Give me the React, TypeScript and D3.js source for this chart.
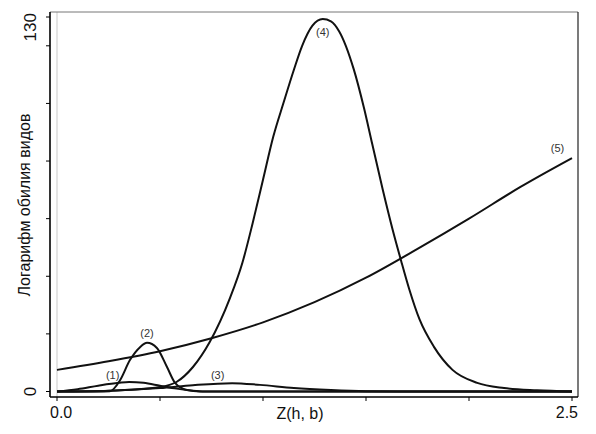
import React from 'react';
import * as d3 from 'd3';

// curve (1)
const c1X = [0, 0.1, 0.2, 0.3, 0.35, 0.42, 0.5, 0.58, 0.66, 0.75, 1.0, 2.5];
const c1Y = [0, 0.8, 2.0, 3.0, 3.3, 3.0, 2.0, 1.0, 0.3, 0, 0, 0];
// curve (2)
const c2X = [0, 0.2, 0.257, 0.306, 0.354, 0.403, 0.437, 0.485, 0.534, 0.573, 0.631, 0.694, 1.0, 2.5];
const c2Y = [0, 0, 0.1, 3.9, 10.9, 15.4, 16.9, 15.1, 8.5, 3.0, 0.5, 0, 0, 0];
// curve (3)
const c3X = [0, 0.26, 0.5, 0.66, 0.85, 0.985, 1.15, 1.33, 1.5, 1.67, 2.5];
const c3Y = [0, 0.3, 1.2, 2.2, 2.9, 2.3, 1.2, 0.5, 0.1, 0, 0];
// curve (4)
const c4X = [0, 0.25, 0.5, 0.58, 0.66, 0.74, 0.84, 0.9, 0.95, 1.0, 1.05, 1.1, 1.15, 1.19, 1.24, 1.29,
  1.33, 1.37, 1.44, 1.49, 1.53, 1.58, 1.63, 1.67, 1.71, 1.76, 1.83, 1.92, 2.04, 2.17, 2.33, 2.5];
const c4Y = [0, 0.3, 1.6, 3.3, 8.5, 17, 32.5, 44.7, 58.5, 73.5, 88.5, 100.3, 111.7, 120, 127, 129.3,
  128.5, 125, 112, 98.5, 86, 70.5, 56, 45.5, 35.5, 25, 15.5, 7.5, 3.0, 1.2, 0.4, 0];
// curve (5)
const c5X = [0, 0.25, 0.5, 0.75, 1.0, 1.25, 1.5, 1.75, 2.0, 2.25, 2.5];
const c5Y = [7.5, 10.5, 14, 18.5, 24, 31, 39.5, 49.5, 60, 71, 81];

const curveLabels = ['(1)', '(2)', '(3)', '(4)', '(5)'];
const labelAt = [[0.27, 4.2], [0.437, 19], [0.78, 4.3], [1.29, 123.5], [2.43, 83]];

const xTicks = [0, 0.5, 1.0, 1.5, 2.0, 2.5];
const yTicks = [0, 20, 40, 60, 80, 100, 120, 130];

const W = 596, H = 434;

export default function App() {
  const x = d3.scaleLinear().domain([0, 2.5]).range([57, 572]);
  const y = d3.scaleLinear().domain([0, 130]).range([391.5, 17]);

  const line = d3.line<[number, number]>()
    .x(d => x(d[0]))
    .y(d => y(d[1]))
    .curve(d3.curveMonotoneX);

  const series = [[c1X, c1Y], [c2X, c2Y], [c3X, c3Y], [c4X, c4Y], [c5X, c5Y]]
    .map(([xs, ys]) => xs.map((v, i) => [v, ys[i]] as [number, number]));

  const font = 'Liberation Sans, Arial, sans-serif';
  const left = 50, right = 578, top = 12, bottom = 397;

  return (
    <svg width={W} height={H} style={{ position: 'absolute', left: 0, top: 0, background: '#fff' }}>
      <rect x={0} y={0} width={W} height={H} fill="#fff" />
      {/* frame */}
      <line x1={x(0)} x2={x(0)} y1={top} y2={bottom} stroke="#bbb" strokeWidth={0.8} />
      <line x1={left} x2={right} y1={top} y2={top} stroke="#777" strokeWidth={1} />
      <line x1={right} x2={right} y1={top} y2={bottom} stroke="#222" strokeWidth={1.2} />
      <line x1={left} x2={left} y1={top} y2={bottom} stroke="#000" strokeWidth={1.6} />
      <line x1={left} x2={right} y1={bottom} y2={bottom} stroke="#000" strokeWidth={1.6} />

      {yTicks.map(t => (
        <line key={'yt' + t} x1={left - 4} x2={left} y1={y(t)} y2={y(t)} stroke="#000" strokeWidth={1} />
      ))}
      {xTicks.map(t => (
        <line key={'xt' + t} x1={x(t)} x2={x(t)} y1={bottom} y2={bottom + 4} stroke="#000" strokeWidth={1} />
      ))}

      {/* y tick labels */}
      <text transform={`translate(36,${y(0)}) rotate(-90)`} textAnchor="middle" fontFamily={font} fontSize={17} fill="#111">0</text>
      <text transform={`translate(36,${top + 1}) rotate(-90)`} textAnchor="end" fontFamily={font} fontSize={17} fill="#111">130</text>

      {/* x tick labels */}
      <text x={50} y={418} textAnchor="start" fontFamily={font} fontSize={16} fill="#111">0.0</text>
      <text x={578} y={418} textAnchor="end" fontFamily={font} fontSize={16} fill="#111">2.5</text>

      {/* axis titles */}
      <text x={300} y={419} textAnchor="middle" fontFamily={font} fontSize={16} fill="#111">Z(h, b)</text>
      <text transform="translate(30,205) rotate(-90)" textAnchor="middle" fontFamily={font} fontSize={16} fill="#111">Логарифм обилия видов</text>

      {/* curves */}
      {series.map((s, i) => (
        <path key={'c' + i} d={line(s) ?? ''} fill="none" stroke="#111" strokeWidth={2} strokeLinejoin="round" />
      ))}

      {curveLabels.map((lab, i) => (
        <text key={lab} x={x(labelAt[i][0])} y={y(labelAt[i][1])} textAnchor="middle" fontFamily={font} fontSize={11} fill="#333">{lab}</text>
      ))}
    </svg>
  );
}
